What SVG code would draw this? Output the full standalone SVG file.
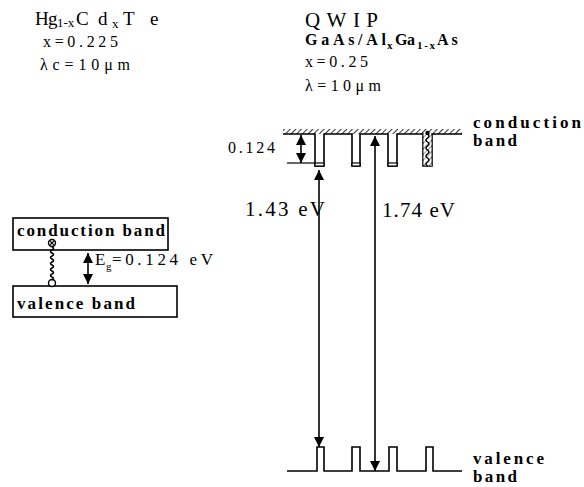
<svg xmlns="http://www.w3.org/2000/svg" width="584" height="487" viewBox="0 0 584 487">
<style>
text{font-family:"Liberation Serif","Times New Roman","DejaVu Serif",serif;fill:#000}
.t15{font-size:15px}
.t16{font-size:16px}
.t17{font-size:17px}
.t21{font-size:21px}
.b{font-weight:bold}
.ln{stroke:#000;stroke-width:1.6;fill:none}
.box{stroke:#000;stroke-width:1.6;fill:#fff}
.arr{stroke:#000;stroke-width:1.6;fill:none;marker-start:url(#ah);marker-end:url(#ah)}
.wv{stroke:#000;stroke-width:1.5;fill:none}
</style>
<defs>
<marker id="ah" viewBox="0 0 10 10" refX="10" refY="5" markerWidth="10" markerHeight="10" markerUnits="userSpaceOnUse" orient="auto-start-reverse">
<path d="M0,0 L10,5 L0,10 z" fill="#000"/>
</marker>
<pattern id="hatch" width="4" height="4" patternUnits="userSpaceOnUse" patternTransform="rotate(45)">
<rect width="4" height="4" fill="#fff"/>
<line x1="0" y1="0" x2="0" y2="4" stroke="#000" stroke-width="1.6"/>
</pattern>
</defs>

<g id="titles">
<text font-family="Liberation Serif, serif" font-size="19"><tspan x="35" y="25">H</tspan><tspan x="48" y="25">g</tspan><tspan x="57" y="27" font-size="13">1-x</tspan><tspan x="76" y="25">C</tspan><tspan x="98" y="25">d</tspan><tspan x="112" y="28" font-size="13">x</tspan><tspan x="123" y="25">T</tspan><tspan x="150" y="25">e</tspan></text>
<text class="t16" x="43" y="47" textLength="75" lengthAdjust="spacing">x=0.225</text>
<text class="t16" x="40" y="70" textLength="90" lengthAdjust="spacing">λc=10μm</text>
<text class="t21" x="305" y="27" textLength="73" lengthAdjust="spacing">QWIP</text>
<text class="t16 b" y="45"><tspan x="305" textLength="81" lengthAdjust="spacing">GaAs/Al</tspan><tspan x="387" y="49" font-size="11">x</tspan><tspan x="395" y="45" textLength="20" lengthAdjust="spacing">Ga</tspan><tspan x="417" y="49" font-size="11" textLength="18" lengthAdjust="spacing">1-x</tspan><tspan x="437" y="45" letter-spacing="3">As</tspan></text>
<text class="t16" x="305" y="67" textLength="63" lengthAdjust="spacing">x=0.25</text>
<text class="t16" x="305" y="91" textLength="76" lengthAdjust="spacing">λ=10μm</text>
</g>

<g id="hgcdte-conduction">
<rect class="box" x="13" y="218" width="155" height="32"/>
<text class="t17 b" x="17" y="236" textLength="148" lengthAdjust="spacing">conduction band</text>
<circle cx="52" cy="243" r="3.5" fill="#fff" stroke="#000" stroke-width="1.4"/>
<path d="M49.8,240.8 L54.2,245.2 M54.2,240.8 L49.8,245.2" stroke="#000" stroke-width="1.2"/>
</g>

<g id="hgcdte-valence">
<rect class="box" x="13" y="286" width="164" height="31"/>
<text class="t17 b" x="17" y="309" textLength="118" lengthAdjust="spacing">valence band</text>
<circle cx="52" cy="283" r="3.5" fill="#fff" stroke="#000" stroke-width="1.4"/>
</g>

<g id="qwip-conduction">
<rect x="283" y="129" width="179" height="5" fill="url(#hatch)"/>
<path class="ln" d="M283,134 H315 V166 H324 V134 H352 V166 H360 V134 H388 V166 H397 V134 H423 V166 H432 V134 H462"/>
<rect x="315" y="163" width="9" height="3" fill="#fff" stroke="#000" stroke-width="1.2"/>
<rect x="352" y="163" width="8" height="3" fill="#fff" stroke="#000" stroke-width="1.2"/>
<rect x="388" y="163" width="9" height="3" fill="#fff" stroke="#000" stroke-width="1.2"/>
<rect x="423" y="134" width="9" height="32" fill="url(#hatch)" opacity="0.5"/>
<path class="wv" d="M427.5,134 q3,2 0,4 q-3,2 0,4 q3,2 0,4 q-3,2 0,4 q3,2 0,4 q-3,2 0,4 q3,2 0,4 q-3,2 0,4"/>
<circle cx="427.5" cy="133" r="2.2" fill="#000"/>
<text class="t17 b" x="473" y="128" textLength="108" lengthAdjust="spacing">conduction</text>
<text class="t17 b" x="473" y="146" textLength="44" lengthAdjust="spacing">band</text>
</g>

<g id="qwip-valence">
<path class="ln" d="M287,471 H317 V447 H324 V471 H352 V447 H360 V471 H389 V447 H397 V471 H426 V447 H433 V471 H462"/>
<text class="t17 b" x="473" y="464" textLength="71" lengthAdjust="spacing">valence</text>
<text class="t17 b" x="473" y="482" textLength="44" lengthAdjust="spacing">band</text>
</g>

<g id="connectors">
<path class="wv" d="M52,247 q3,1.5 0,3 q-3,1.5 0,3 q3,1.5 0,3 q-3,1.5 0,3 q3,1.5 0,3 q-3,1.5 0,3 q3,1.5 0,3 q-3,1.5 0,3 q3,1.5 0,3 q-3,1.5 0,3 q3,1.5 0,3"/>
<line class="arr" x1="88" y1="253" x2="88" y2="284"/>
<line class="arr" x1="301" y1="135" x2="301" y2="163"/>
<line x1="287" y1="163" x2="315" y2="163" stroke="#000" stroke-width="1.2"/>
<line class="arr" x1="319" y1="170" x2="319" y2="447"/>
<line class="arr" x1="375" y1="136" x2="375" y2="471"/>
</g>

<g id="labels">
<text class="t17"><tspan x="95" y="265">E</tspan><tspan x="106" y="270" font-size="11">g</tspan><tspan x="112" y="265" textLength="101" lengthAdjust="spacing">=0.124 eV</tspan></text>
<text class="t16" x="228" y="153" textLength="47" lengthAdjust="spacing">0.124</text>
<text class="t21" x="245" y="216" textLength="80" lengthAdjust="spacing">1.43 eV</text>
<text class="t21" x="382" y="217" textLength="73" lengthAdjust="spacing">1.74 eV</text>
</g>
</svg>
